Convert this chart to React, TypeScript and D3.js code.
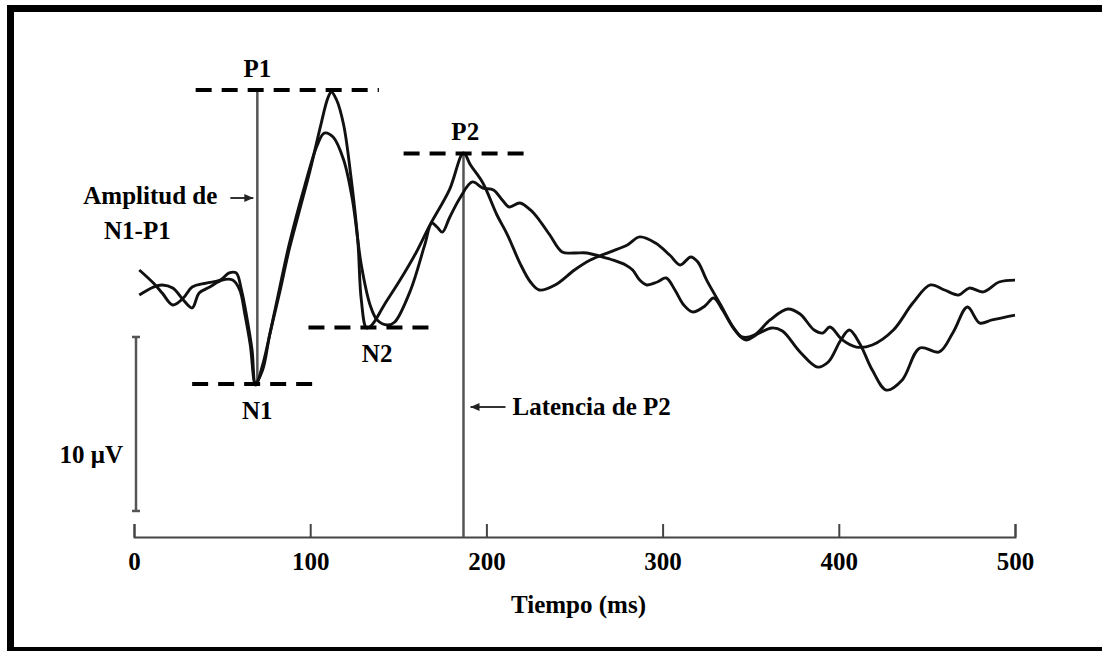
import React, { useEffect, useRef } from 'react';
import * as d3 from 'd3';

// trace 1 (the one with the taller P1)
const timeA = [3, 11, 16, 22, 28, 33, 41, 49, 54, 58, 61, 64, 67, 69, 73, 77, 83, 88, 94, 100, 106, 110, 112, 115, 119, 123, 127, 129, 132, 135, 142, 151, 160, 168, 179, 187, 191, 198, 206, 212, 219, 225, 230, 239, 250, 259, 270, 280, 287, 296, 304, 310, 316, 320, 325, 333, 340, 345, 352, 361, 371, 378, 386, 391, 395, 402, 410, 419, 431, 442, 452, 460, 468, 474, 482, 491, 500];
const voltA = [1.15, 0.4, -0.17, -0.86, -0.46, 0.17, 0.4, 0.57, 0.98, 0.98, 0, -1.55, -3.45, -5.34, -4.6, -2.59, 0, 2.3, 4.6, 6.9, 9.48, 11.03, 11.38, 10.92, 9.48, 6.61, 2.87, -0.57, -2.18, -2.01, -0.86, 0.57, 2.13, 3.74, 5.75, 7.87, 7.18, 6.15, 4.31, 3.16, 1.55, 0.46, 0, 0.29, 1.15, 1.72, 2.18, 2.59, 3.05, 2.7, 2.01, 1.44, 1.9, 1.61, 0.57, -0.86, -2.13, -2.7, -2.59, -1.72, -1.09, -1.38, -2.3, -2.47, -2.13, -2.87, -3.28, -3.16, -2.3, -0.75, 0.29, 0, -0.29, 0.11, -0.11, 0.46, 0.57];

// trace 2
const timeB = [3, 11, 16, 22, 28, 33, 37, 43, 50, 56, 60, 63, 66, 69, 73, 80, 88, 97, 104, 108, 113, 119, 124, 129, 134, 138, 144, 148, 157, 165, 169, 172, 175, 179, 185, 192, 198, 204, 209, 213, 219, 225, 230, 236, 243, 250, 257, 264, 272, 279, 283, 287, 291, 297, 302, 307, 312, 317, 324, 329, 334, 341, 347, 355, 362, 368, 378, 388, 394, 401, 406, 412, 419, 427, 436, 446, 457, 465, 473, 480, 487, 500];
const voltB = [-0.29, 0.17, 0.29, 0.11, -0.57, -1.03, -0.17, 0.17, 0.57, 0.57, 0, -1.44, -3.16, -5.46, -4.31, -1.15, 2.59, 6.03, 8.33, 9.02, 8.79, 7.47, 5.17, 1.44, -0.86, -1.72, -2.01, -1.84, 0, 2.59, 3.85, 3.62, 3.33, 4.14, 5.29, 6.21, 5.86, 5.75, 5.17, 4.77, 5.0, 4.6, 4.02, 3.16, 2.18, 2.13, 2.13, 1.95, 1.72, 1.44, 1.15, 0.57, 0.29, 0.46, 0.69, 0, -0.86, -1.26, -0.92, -0.46, -1.15, -2.3, -2.87, -2.47, -2.18, -2.36, -3.56, -4.43, -4.14, -2.9, -2.3, -3.1, -4.6, -5.75, -5.17, -3.33, -3.56, -2.41, -0.98, -1.9, -1.72, -1.44];

const xTicks = [0, 100, 200, 300, 400, 500];

// peak markers: name, level (µV), dashed line start/end (ms), label time (ms)
const peakNames = ['P1', 'N1', 'N2', 'P2'];
const peakLevels = [11.5, -5.4, -2.15, 7.85];
const dashStart = [35, 33, 99, 153];
const dashEnd = [139, 105, 169, 223];
const labelTimes = [70, 70, 138, 188];

const n1Latency = 70;
const p2Latency = 187;

export default function App() {
    const ref = useRef(null);

    useEffect(() => {
        const W = 1102;
        const svg = d3.select(ref.current);
        svg.selectAll('*').remove();

        const font = '"Liberation Serif", "Times New Roman", serif';

        // frame
        svg.append('path')
            .attr('d', 'M1102,8.5H10.5V651')
            .attr('fill', 'none').attr('stroke', '#000').attr('stroke-width', 7);
        svg.append('line')
            .attr('x1', 7).attr('x2', W).attr('y1', 649).attr('y2', 649)
            .attr('stroke', '#000').attr('stroke-width', 4);

        var x = d3.scaleLinear().domain([0, 500]).range([134, 1015]);
        var y = d3.scaleLinear().domain([-10, 10]).range([464, 116]);

        // time axis
        var xAxis = d3.axisBottom(x).tickValues(xTicks).tickSize(-13).tickPadding(15);
        var ax = svg.append('g')
            .attr('transform', 'translate(0,537)')
            .call(xAxis);
        ax.select('.domain').attr('stroke', '#444').attr('stroke-width', 2);
        ax.selectAll('.tick line').attr('stroke', '#444').attr('stroke-width', 2);
        ax.selectAll('.tick text')
            .attr('fill', '#000')
            .style('font-family', font)
            .style('font-weight', 'bold')
            .style('font-size', '25px');

        svg.append('text')
            .attr('x', (x(0) + x(500)) / 2 + 4).attr('y', 613)
            .attr('text-anchor', 'middle')
            .style('font-family', font).style('font-weight', 'bold').style('font-size', '25px')
            .text('Tiempo (ms)');

        // 10 µV scale bar
        var barX = x(0) + 2;
        var barTop = y(-2.7), barBot = y(-12.7);
        svg.append('line')
            .attr('x1', barX).attr('x2', barX).attr('y1', barTop).attr('y2', barBot)
            .attr('stroke', '#555').attr('stroke-width', 2.5);
        [barTop, barBot].forEach(function (v) {
            svg.append('line')
                .attr('x1', barX - 4).attr('x2', barX + 4).attr('y1', v).attr('y2', v)
                .attr('stroke', '#555').attr('stroke-width', 2.5);
        });
        svg.append('text')
            .attr('x', barX - 13).attr('y', 463)
            .attr('text-anchor', 'end')
            .style('font-family', font).style('font-weight', 'bold').style('font-size', '25px')
            .text('10 \u03BCV');

        // amplitude / latency guides
        var p1x = x(n1Latency);
        svg.append('line')
            .attr('x1', p1x).attr('x2', p1x).attr('y1', y(peakLevels[0])).attr('y2', y(peakLevels[1]))
            .attr('stroke', '#555').attr('stroke-width', 2.5);
        var p2x = x(p2Latency);
        svg.append('line')
            .attr('x1', p2x).attr('x2', p2x).attr('y1', y(peakLevels[3])).attr('y2', 537)
            .attr('stroke', '#555').attr('stroke-width', 2.5);

        // the two ERP traces
        var line = d3.line()
            .x(function (d) { return x(d[0]); })
            .y(function (d) { return y(d[1]); })
            .curve(d3.curveCatmullRom.alpha(0.5));
        [[timeA, voltA], [timeB, voltB]].forEach(function (s) {
            var pts = s[0].map(function (t, i) { return [t, s[1][i]]; });
            svg.append('path')
                .attr('d', line(pts))
                .attr('fill', 'none')
                .attr('stroke', '#111')
                .attr('stroke-width', 2.9)
                .attr('stroke-linejoin', 'round');
        });

        // peak dashed levels + labels
        peakNames.forEach(function (name, i) {
            var ly = y(peakLevels[i]);
            svg.append('line')
                .attr('x1', x(dashStart[i])).attr('x2', x(dashEnd[i]))
                .attr('y1', ly).attr('y2', ly)
                .attr('stroke', '#000').attr('stroke-width', 4)
                .attr('stroke-dasharray', '16,10');
            var above = peakLevels[i] > 0;
            svg.append('text')
                .attr('x', x(labelTimes[i])).attr('y', above ? ly - 13 : ly + 35)
                .attr('text-anchor', 'middle')
                .style('font-family', font).style('font-weight', 'bold').style('font-size', '25px')
                .text(name);
        });

        // arrows
        function arrow(x1, x2, yy) {
            svg.append('line')
                .attr('x1', x1).attr('x2', x2).attr('y1', yy).attr('y2', yy)
                .attr('stroke', '#333').attr('stroke-width', 2);
            var dir = x2 > x1 ? -1 : 1;
            svg.append('path')
                .attr('d', 'M' + x2 + ',' + yy + 'L' + (x2 + dir * 9) + ',' + (yy - 4) + 'L' + (x2 + dir * 9) + ',' + (yy + 4) + 'Z')
                .attr('fill', '#222');
        }
        arrow(p1x - 27, p1x - 4, 198);
        svg.append('text')
            .attr('x', p1x - 40).attr('y', 204)
            .attr('text-anchor', 'end')
            .style('font-family', font).style('font-weight', 'bold').style('font-size', '25px')
            .text('Amplitud de');
        svg.append('text')
            .attr('x', p1x - 120).attr('y', 239)
            .attr('text-anchor', 'middle')
            .style('font-family', font).style('font-weight', 'bold').style('font-size', '25px')
            .text('N1-P1');

        arrow(p2x + 42, p2x + 7, 407);
        svg.append('text')
            .attr('x', p2x + 49).attr('y', 415)
            .style('font-family', font).style('font-weight', 'bold').style('font-size', '25px')
            .text('Latencia de P2');
    }, []);

    return (
        <div style={{ position: 'absolute', left: 0, top: 0, background: '#fff' }}>
            <svg ref={ref} width={1102} height={651} style={{ display: 'block' }}></svg>
        </div>
    );
}
